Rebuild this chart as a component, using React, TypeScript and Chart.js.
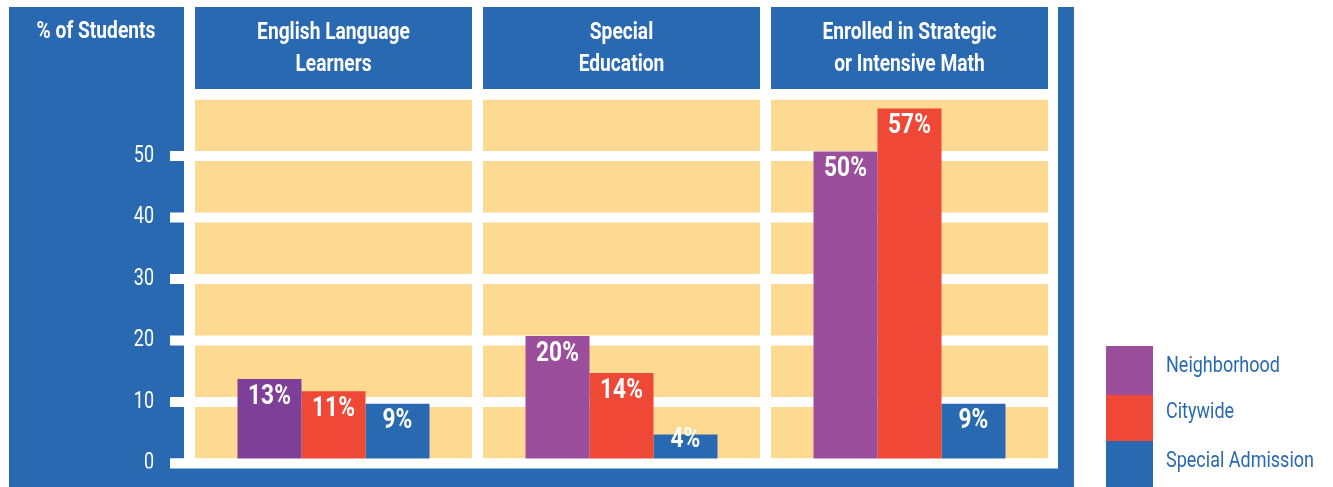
import React, { useEffect, useRef } from "react";
import { Chart, registerables } from "chart.js";

Chart.register(...registerables);

const categories: string[][] = [
  ["English Language", "Learners"],
  ["Special", "Education"],
  ["Enrolled in Strategic", "or Intensive Math"],
];
const seriesNames = ["Neighborhood", "Citywide", "Special Admission"];
const neighborhood = [13, 20, 50];
const citywide = [11, 14, 57];
const specialAdmission = [9, 4, 9];
const yTicks = [0, 10, 20, 30, 40, 50, 60];
const yTickLabels = ["0", "10", "20", "30", "40", "50", ""];
const axisTitle = "% of Students";

const BLUE = "#2969b1";
const PURPLE = "#9a4e9b";
const DARK_PURPLE = "#7d3f97";
const RED = "#ef4837";
const YELLOW = "#fed991";
const WHITE = "#ffffff";
const FF = "Roboto, 'DejaVu Sans', sans-serif";

const seriesColors = [PURPLE, RED, BLUE];

function drawText(
  ctx: CanvasRenderingContext2D,
  text: string,
  x: number,
  y: number,
  align: CanvasTextAlign,
  weight: string,
  size: number,
  color: string,
  sx: number
) {
  ctx.save();
  ctx.font = `${weight} ${size}px ${FF}`;
  ctx.fillStyle = color;
  ctx.textAlign = align;
  ctx.textBaseline = "middle";
  ctx.translate(x, y);
  ctx.scale(sx, 1);
  ctx.fillText(text, 0, 0);
  ctx.restore();
}

const decorPlugin = {
  id: "decor",
  beforeDraw(chart: any) {
    const ctx = chart.ctx;
    const xs = chart.scales.x;
    const ys = chart.scales.y;
    const top = ys.getPixelForValue(60);
    const bottom = ys.getPixelForValue(0);
    ctx.save();
    ctx.fillStyle = WHITE;
    ctx.fillRect(0, 0, chart.width, chart.height);
    ctx.fillStyle = BLUE;
    ctx.fillRect(9, 7, 1065, 480);
    ctx.fillStyle = WHITE;
    ctx.fillRect(184, 7, 874, 461);
    const half = 138.5;
    categories.forEach((lines, i) => {
      const c = xs.getPixelForValue(i);
      ctx.fillStyle = YELLOW;
      ctx.fillRect(c - half, top + 5, half * 2, bottom - top - 5);
      ctx.fillStyle = BLUE;
      ctx.fillRect(c - half, 7, half * 2, 82);
      lines.forEach((l, k) => drawText(ctx, l, c, 32.5 + k * 32, "center", "bold", 24, WHITE, 0.8));
    });
    drawText(ctx, axisTitle, 96, 32, "center", "bold", 24, WHITE, 0.8);
    ctx.restore();
  },
  beforeDatasetsDraw(chart: any) {
    const ctx = chart.ctx;
    const ys = chart.scales.y;
    ctx.save();
    yTicks.forEach((v, i) => {
      const y = ys.getPixelForValue(v);
      ctx.fillStyle = WHITE;
      const x0 = yTickLabels[i] === "" ? 184 : 170;
      ctx.fillRect(x0, y - 5, 1058 - x0, 10);
      if (yTickLabels[i] !== "") {
        drawText(ctx, yTickLabels[i], 154, y, "right", "normal", 23, WHITE, 0.78);
      }
    });
    ctx.restore();
  },
  afterDatasetsDraw(chart: any) {
    const ctx = chart.ctx;
    const ys = chart.scales.y;
    const yb = chart.scales.yb;
    ctx.save();
    const y0 = ys.getPixelForValue(0);
    const base = yb.getPixelForValue(0);
    ctx.fillStyle = WHITE;
    ctx.fillRect(170, y0 - 5, 1058 - 170, 10.5);
    ctx.fillStyle = BLUE;
    ctx.fillRect(9, y0 + 5, 1065, 487 - (y0 + 5));
    chart.data.datasets.forEach((ds: any, di: number) => {
      const meta = chart.getDatasetMeta(di);
      meta.data.forEach((bar: any, j: number) => {
        const ly = Math.min(bar.y + 18, base - 19);
        drawText(ctx, `${ds.data[j]}%`, bar.x, ly, "center", "bold", 27, WHITE, 0.84);
      });
    });
    const lx = 1106;
    const boxes = [
      [346, 395],
      [395, 441],
      [441, 487],
    ];
    const textY = [366.5, 412.5, 461.5];
    seriesNames.forEach((name, i) => {
      const [a, b] = boxes[i];
      ctx.fillStyle = seriesColors[i];
      ctx.fillRect(lx, a, 47, b - a);
      drawText(ctx, name, 1166, textY[i], "left", "normal", 22.5, BLUE, 0.8);
    });
    ctx.restore();
  },
};

export default function App() {
  const ref = useRef<HTMLCanvasElement | null>(null);
  useEffect(() => {
    if (!ref.current) return;
    const chart = new Chart(ref.current, {
      type: "bar",
      data: {
        labels: categories.map((c) => c.join(" ")),
        datasets: [
          {
            label: seriesNames[0],
            data: neighborhood,
            backgroundColor: [DARK_PURPLE, PURPLE, PURPLE],
            yAxisID: "yb",
          },
          { label: seriesNames[1], data: citywide, backgroundColor: RED, yAxisID: "yb" },
          { label: seriesNames[2], data: specialAdmission, backgroundColor: BLUE, yAxisID: "yb" },
        ],
      },
      options: {
        responsive: false,
        animation: false,
        events: [],
        layout: { padding: { left: 189.5, right: 279.5, top: 94.5, bottom: 23.5 } },
        datasets: { bar: { categoryPercentage: 192 / 288, barPercentage: 1, borderWidth: 0 } },
        scales: {
          x: { display: false },
          y: { display: false, min: 0, max: 60 },
          yb: { display: false, min: -0.73, max: 59.27 },
        },
        plugins: { legend: { display: false }, tooltip: { enabled: false } },
      },
      plugins: [decorPlugin],
    });
    return () => chart.destroy();
  }, []);
  return (
    <div style={{ position: "absolute", left: 0, top: 0, width: 1333, height: 487 }}>
      <canvas ref={ref} width={1333} height={487} style={{ display: "block" }} />
    </div>
  );
}
